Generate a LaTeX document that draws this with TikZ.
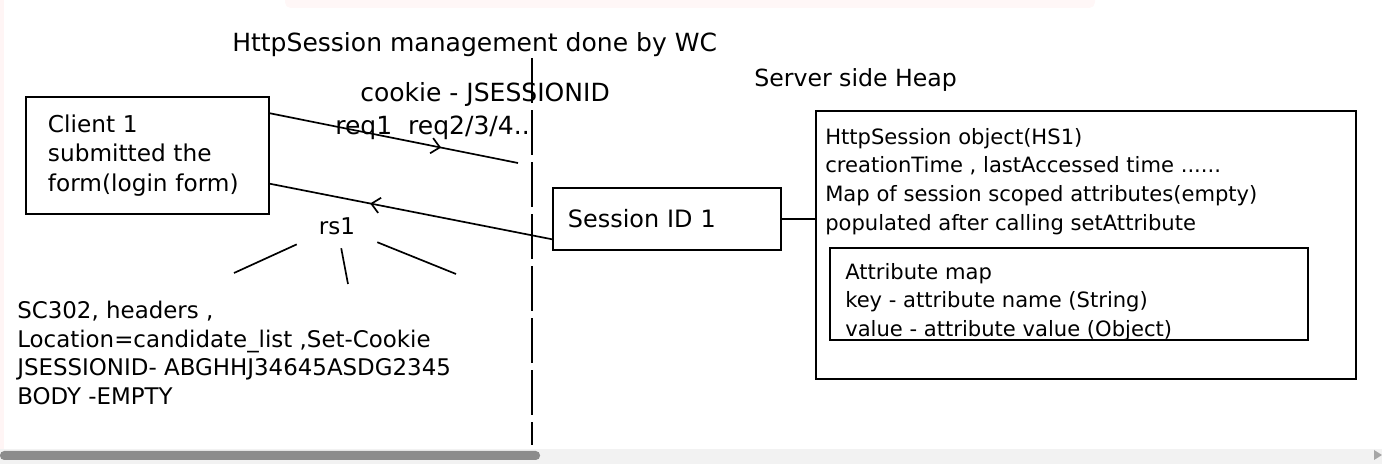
\documentclass[tikz,border=0pt]{standalone}
\usepackage{fontspec}
\setmainfont{DejaVu Sans}
\usetikzlibrary{positioning,arrows.meta,decorations.markings}

\begin{document}
\begin{tikzpicture}[x=0.025cm,y=-0.025cm,
      txt/.style={
            inner sep=0pt, align=left, anchor=north west,
            font=\fontsize{15}{20.4}\selectfont
        },
      big/.style={font=\fontsize{17.8}{21}\selectfont},
      box/.style={
            draw, line width=1.4pt, inner ysep=0pt,
            align=left, font=\fontsize{15}{20.6}\selectfont
        },
      wire/.style={line width=1.2pt},
      midarrow/.style={
            postaction={decorate},
            decoration={markings,
                  mark=at position #1 with {\arrow{Straight Barb[length=6pt,width=11pt,line width=1.2pt]}}}
        }
      ]
    \useasboundingbox (0,0) rectangle (1382,464);

    % screen chrome
    \fill[red!4] (0,0) rectangle (4,449);
    \fill[red!3, rounded corners=4pt] (285,-20) rectangle (1095,8);
    \fill[gray!10] (0,449) rectangle (1382,464);
    \fill[gray!90, rounded corners=3pt] (0,451) rectangle (540,460);
    \fill[gray!70] (1374,450) -- (1382,455) -- (1374,460) -- cycle;

    % titles
    \node[txt, big] (title) at (232,32) {HttpSession management done by WC};
    \node[txt, big] (cookie) at (360,82) {cookie - JSESSIONID};
    \node[txt, big] (req) at (335,116) {req1\ \ req2/3/4..};
    \node[txt, font=\fontsize{16.8}{20}\selectfont] (heaptitle) at (754,68) {Server side Heap};

    % web container boundary
    \coordinate (wctop) at (532,58);
    \coordinate (wcbot) at (532,445);
    \draw[wire, dash pattern=on 32pt off 5pt] (wctop) -- (wcbot);

    % client and session id
    \node[box, font=\fontsize{16.5}{21}\selectfont, anchor=north west,
          minimum width=6.075cm, minimum height=2.925cm,
          inner xsep=0.55cm, text width=4.975cm] (client) at (25,96)
          {Client 1\\submitted the\\form(login form)};
    \node[box, font=\fontsize{17}{20}\selectfont, anchor=north west,
          minimum width=5.7cm, minimum height=1.55cm,
          inner xsep=0.375cm, text width=4.95cm] (session) at (552,187)
          {Session ID 1};

    \coordinate (reqend) at (518,163);
    \draw[wire, midarrow=0.69] (client.19) -- (reqend);
    \draw[wire, midarrow=0.645] (session.190) -- (client.-13);

    % response
    \node[inner sep=0pt, minimum width=2cm, minimum height=1.1cm,
          font=\fontsize{16.4}{20}\selectfont] (rs1) at (337,226) {rs1};
    \coordinate (rsa) at (234,273);
    \coordinate (rsb) at (348,284);
    \coordinate (rsc) at (456,274);
    \draw[wire] (rs1) -- (rsa);
    \draw[wire] (rs1) -- (rsb);
    \draw[wire] (rs1) -- (rsc);
    \node[txt, font=\fontsize{16.3}{20.3}\selectfont] (resp) at (17,301)
          {SC302, headers ,\\Location=candidate\_list ,Set-Cookie\\JSESSIONID- ABGHHJ34645ASDG2345\\BODY -EMPTY};

    % server side heap
    \node[box, anchor=north west, minimum width=13.5cm, minimum height=6.7cm] (heap) at (815,110) {};
    \node[txt] (hstext) at (825,128)
          {HttpSession object(HS1)\\creationTime , lastAccessed time ......\\Map of session scoped attributes(empty)\\populated after calling setAttribute};
    \node[box, anchor=north west, minimum width=11.95cm, minimum height=2.3cm] (attrmap) at (829,247) {};
    \node[txt] (attrtext) at (845,263)
          {Attribute map\\key - attribute name (String)\\value - attribute value (Object)};

    \draw[wire] (session.east) -- (session.east -| heap.west);
  \end{tikzpicture}
\end{document}
